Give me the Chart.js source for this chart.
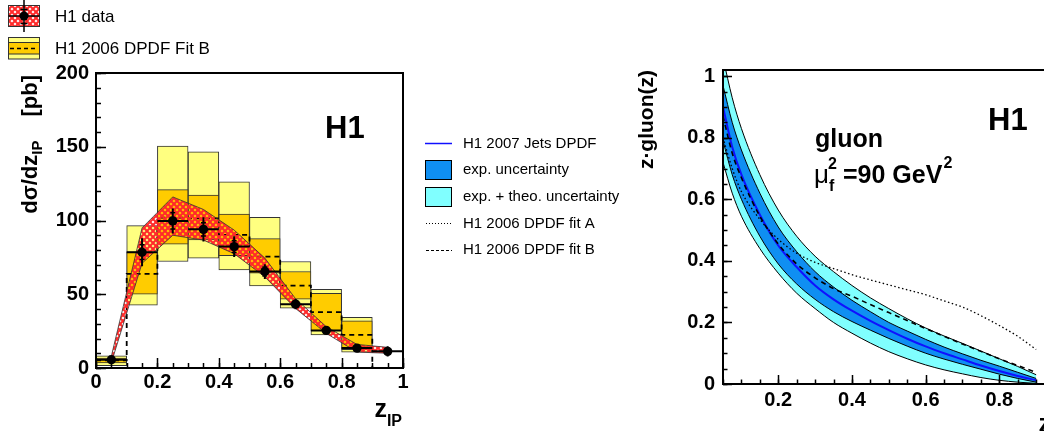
<!DOCTYPE html>
<html>
<head>
<meta charset="utf-8">
<script src="https://cdn.jsdelivr.net/npm/chart.js@4.4.0/dist/chart.umd.min.js"></script>
<style>
html, body { margin: 0; padding: 0; background: #fff; overflow: hidden; width: 1044px; height: 431px; }
canvas { position: absolute; top: 0; }
#left { left: 0; }
#right { left: 630px; }
</style>
</head>
<body>
<canvas id="left" width="630" height="431"></canvas>
<canvas id="right" width="470" height="431"></canvas>
<script>
const FONT = "'Liberation Sans', Arial, Helvetica, sans-serif";

// ---- left panel: dsigma/dz_IP [pb]
const binCentres = [0.05, 0.15, 0.25, 0.35, 0.45, 0.55, 0.65, 0.75, 0.85];
const theoLow  = [1.6, 42.6, 72.2, 74.4, 66.5, 55.7, 40.6, 22.5, 10.8];
const theoHigh = [8.3, 96.5, 150.4, 146.6, 126.3, 102.1, 72.2, 53.4, 34.3];
const expLow   = [3.4, 50.0, 83.9, 86.8, 76.2, 64.3, 46.7, 25.3, 12.4];
const expHigh  = [6.8, 78.7, 120.9, 117.2, 104.4, 87.7, 65.4, 50.7, 32.0];
const fitBEdges = [0, 0.1, 0.2, 0.3, 0.4, 0.5, 0.6, 0.7, 0.8, 0.9, 1.0];
const fitBXsec  = [5.2, 63.8, 101.9, 101.5, 90.2, 75.5, 55.9, 37.9, 22.5, 0, 0];

const dataZ    = [0.05, 0.15, 0.25, 0.35, 0.45, 0.55, 0.65, 0.75, 0.85, 0.95];
const dataXsec = [5.6, 78.5, 99.7, 94.0, 82.3, 65.4, 43.3, 25.5, 13.5, 11.3];
const statErr  = [1.0, 5.0, 5.5, 4.5, 4.0, 3.0, 2.0, 1.5, 1.5, 2.0];
const totErr   = [2.0, 9.5, 8.5, 8.2, 7.0, 5.0, 3.5, 2.5, 2.0, 3.5];
const bandUp   = [8, 95, 116, 107.5, 93.5, 74.5, 47, 28, 16, 14];
const bandDown = [3.5, 71, 90, 86.7, 77.5, 61.8, 40.4, 23.5, 10.8, 10];

// ---- right panel: z*gluon(z) at mu_f^2 = 90 GeV^2
const zGrid    = [0.05, 0.075, 0.1, 0.15, 0.2, 0.25, 0.3, 0.35, 0.4, 0.45, 0.5, 0.55, 0.6, 0.65, 0.7, 0.75, 0.8, 0.85, 0.9];
const jetsFit  = [0.90, 0.77, 0.68, 0.55, 0.45, 0.38, 0.32, 0.275, 0.238, 0.205, 0.175, 0.147, 0.122, 0.10, 0.08, 0.06, 0.042, 0.026, 0.012];
const totUp    = [1.06, 0.93, 0.83, 0.68, 0.565, 0.48, 0.415, 0.365, 0.32, 0.28, 0.245, 0.212, 0.182, 0.156, 0.132, 0.107, 0.082, 0.057, 0.03];
const expUp    = [0.97, 0.85, 0.76, 0.62, 0.51, 0.43, 0.365, 0.315, 0.272, 0.235, 0.2, 0.172, 0.145, 0.12, 0.098, 0.077, 0.058, 0.038, 0.018];
const expDown  = [0.79, 0.68, 0.60, 0.48, 0.39, 0.325, 0.275, 0.235, 0.203, 0.175, 0.148, 0.123, 0.10, 0.081, 0.064, 0.048, 0.032, 0.018, 0.006];
const totDown  = [0.72, 0.62, 0.545, 0.44, 0.36, 0.295, 0.245, 0.2, 0.165, 0.133, 0.105, 0.082, 0.062, 0.046, 0.033, 0.021, 0.012, 0.006, 0.002];
const fit2006A = [0.80, 0.70, 0.625, 0.535, 0.47, 0.425, 0.395, 0.375, 0.355, 0.338, 0.322, 0.306, 0.29, 0.27, 0.25, 0.222, 0.19, 0.155, 0.112];
const fit2006B = [0.87, 0.75, 0.67, 0.545, 0.455, 0.39, 0.345, 0.31, 0.285, 0.258, 0.232, 0.206, 0.18, 0.155, 0.13, 0.106, 0.082, 0.06, 0.038];

const LIGHT_YELLOW = '#ffff80', ORANGE = '#ffcc00';
const BLUE_BAND = '#0f8ff2', CYAN_BAND = '#80ffff', BLUE_LINE = '#1010ff';

// red cross hatch like ROOT fill style
const tile = document.createElement('canvas');
tile.width = tile.height = 6;
{
  const g = tile.getContext('2d');
  g.strokeStyle = '#ff2a2a';
  g.lineWidth = 2.1;
  g.beginPath();
  g.moveTo(-1, -1); g.lineTo(7, 7);
  g.moveTo(7, -1); g.lineTo(-1, 7);
  g.stroke();
}
const hatch = document.getElementById('left').getContext('2d').createPattern(tile, 'repeat');

const pts = (xs, ys) => xs.map((x, i) => ({ x, y: ys[i] }));

const vBars = [], hBars = [], statTicks = [];
dataZ.forEach((z, i) => {
  const y = dataXsec[i];
  vBars.push({ x: z, y: y - totErr[i] }, { x: z, y: y + totErr[i] }, { x: z, y: null });
  hBars.push({ x: z - 0.05, y }, { x: z + 0.05, y }, { x: z, y: null });
  [-1, 1].forEach(s => {
    statTicks.push({ x: z - 0.008, y: y + s * statErr[i] }, { x: z + 0.008, y: y + s * statErr[i] }, { x: z, y: null });
  });
});

// frame + inward ticks, ROOT style
const frame = {
  id: 'frame',
  afterDatasetsDraw(chart, args, o) {
    const { ctx, chartArea: a, scales } = chart;
    ctx.save();
    ctx.strokeStyle = '#000';
    ctx.lineWidth = 1.5;
    const tick = (sc, step, len) => {
      for (let v = Math.ceil(sc.min / step - 1e-6) * step; v <= sc.max + 1e-9; v += step) {
        const p = Math.round(sc.getPixelForValue(v)) + 0.5;
        ctx.beginPath();
        if (sc.axis === 'x') { ctx.moveTo(p, a.bottom); ctx.lineTo(p, a.bottom - len); }
        else { ctx.moveTo(a.left, p); ctx.lineTo(a.left + len, p); }
        ctx.stroke();
      }
    };
    tick(scales.x, o.xMinor, o.minor);
    tick(scales.x, o.xMajor, o.major);
    tick(scales.y, o.yMinor, o.minor);
    tick(scales.y, o.yMajor, o.major);
    ctx.lineWidth = 2;
    ctx.strokeRect(a.left, a.top, a.right - a.left, a.bottom - a.top);
    ctx.restore();
  }
};

function runs(ctx, x, y, parts) {
  let cx = x;
  for (const p of parts) {
    ctx.font = p.f;
    ctx.fillText(p.t, cx + (p.dx || 0), y + (p.dy || 0));
    cx += ctx.measureText(p.t).width + (p.dx || 0);
  }
  return cx - x;
}
function runsWidth(ctx, parts) {
  let w = 0;
  for (const p of parts) { ctx.font = p.f; w += ctx.measureText(p.t).width + (p.dx || 0); }
  return w;
}

const leftDecor = {
  id: 'leftDecor',
  afterDraw(chart) {
    const ctx = chart.ctx;
    ctx.save();
    ctx.fillStyle = '#000';
    ctx.textBaseline = 'alphabetic';

    ctx.font = `bold 31px ${FONT}`;
    ctx.fillText('H1', 325, 138);

    // y title
    const yt = [
      { t: 'd\u03c3/dz', f: `bold 22px ${FONT}` },
      { t: 'IP', f: `bold 15px ${FONT}`, dy: 5 },
      { t: '[pb]', f: `bold 22px ${FONT}`, dx: 24 }
    ];
    ctx.save();
    ctx.translate(37, 75);
    ctx.rotate(-Math.PI / 2);
    runs(ctx, -runsWidth(ctx, yt), 0, yt);
    ctx.restore();

    // x title
    const xt = [{ t: 'z', f: `bold 25px ${FONT}` }, { t: 'IP', f: `bold 16px ${FONT}`, dy: 9 }];
    runs(ctx, 402 - runsWidth(ctx, xt), 417, xt);

    // top-left legend
    ctx.lineWidth = 1;
    ctx.strokeStyle = '#333';
    ctx.fillStyle = '#fff';
    ctx.fillRect(8.5, 5.5, 31, 21);
    ctx.fillStyle = hatch;
    ctx.fillRect(8.5, 5.5, 31, 21);
    ctx.strokeRect(8.5, 5.5, 31, 21);
    ctx.strokeStyle = '#000';
    ctx.lineWidth = 1.5;
    ctx.beginPath();
    ctx.moveTo(24, 0); ctx.lineTo(24, 32);
    ctx.moveTo(8.5, 16); ctx.lineTo(39.5, 16);
    ctx.moveTo(20.5, 9.5); ctx.lineTo(27.5, 9.5);
    ctx.moveTo(20.5, 23.5); ctx.lineTo(27.5, 23.5);
    ctx.stroke();
    ctx.fillStyle = '#000';
    ctx.beginPath(); ctx.arc(24, 16, 4.5, 0, Math.PI * 2); ctx.fill();

    ctx.lineWidth = 1;
    ctx.strokeStyle = '#333';
    ctx.fillStyle = LIGHT_YELLOW;
    ctx.fillRect(8.5, 37.5, 31, 21.5);
    ctx.strokeRect(8.5, 37.5, 31, 21.5);
    ctx.fillStyle = ORANGE;
    ctx.fillRect(8.5, 42.5, 31, 11.5);
    ctx.strokeRect(8.5, 42.5, 31, 11.5);
    ctx.strokeStyle = '#000';
    ctx.lineWidth = 1.5;
    ctx.setLineDash([4, 3]);
    ctx.beginPath(); ctx.moveTo(10, 48.5); ctx.lineTo(38, 48.5); ctx.stroke();
    ctx.setLineDash([]);

    ctx.fillStyle = '#000';
    ctx.font = `17px ${FONT}`;
    ctx.textBaseline = 'middle';
    ctx.fillText('H1 data', 55, 17);
    ctx.fillText('H1 2006 DPDF Fit B', 55, 49);

    // middle legend (belongs to the gluon panel)
    ctx.font = `15px ${FONT}`;
    const lx = 463;
    ctx.strokeStyle = BLUE_LINE; ctx.lineWidth = 1.5;
    ctx.beginPath(); ctx.moveTo(425, 143.5); ctx.lineTo(452, 143.5); ctx.stroke();
    ctx.fillText('H1 2007 Jets DPDF', lx, 143.5);

    ctx.strokeStyle = '#000'; ctx.lineWidth = 1;
    ctx.fillStyle = BLUE_BAND;
    ctx.fillRect(425.5, 160.5, 26, 19); ctx.strokeRect(425.5, 160.5, 26, 19);
    ctx.fillStyle = CYAN_BAND;
    ctx.fillRect(425.5, 187.5, 26, 19); ctx.strokeRect(425.5, 187.5, 26, 19);
    ctx.fillStyle = '#000';
    ctx.fillText('exp. uncertainty', lx, 170);
    ctx.fillText('exp. + theo. uncertainty', lx, 197);

    ctx.setLineDash([1, 2]);
    ctx.beginPath(); ctx.moveTo(426, 223.5); ctx.lineTo(452, 223.5); ctx.stroke();
    ctx.setLineDash([3, 2]);
    ctx.beginPath(); ctx.moveTo(426, 250.5); ctx.lineTo(452, 250.5); ctx.stroke();
    ctx.setLineDash([]);
    ctx.fillText('H1 2006 DPDF fit A', lx, 224);
    ctx.fillText('H1 2006 DPDF fit B', lx, 250);
    ctx.restore();
  }
};

const rightDecor = {
  id: 'rightDecor',
  afterDraw(chart) {
    const ctx = chart.ctx;
    const ox = 630;
    ctx.save();
    ctx.fillStyle = '#000';
    ctx.textBaseline = 'alphabetic';
    ctx.font = `bold 31px ${FONT}`;
    ctx.fillText('H1', 988 - ox, 130);
    ctx.font = `bold 25px ${FONT}`;
    ctx.fillText('gluon', 815 - ox, 147);
    ctx.font = `26px ${FONT}`;
    ctx.fillText('\u03bc', 814 - ox, 183);
    ctx.font = `bold 16px ${FONT}`;
    ctx.fillText('f', 829 - ox, 191);
    ctx.fillText('2', 828 - ox, 169);
    ctx.font = `bold 25px ${FONT}`;
    const w = ctx.measureText('=90 GeV').width;
    ctx.fillText('=90 GeV', 843 - ox, 183);
    ctx.font = `bold 16px ${FONT}`;
    ctx.fillText('2', 843 - ox + w + 1, 168);

    // y title
    ctx.save();
    ctx.translate(653 - ox, 70);
    ctx.rotate(-Math.PI / 2);
    ctx.font = `bold 21px ${FONT}`;
    ctx.textAlign = 'right';
    ctx.fillText('z\u00b7gluon(z)', 0, 0);
    ctx.restore();

    // x title (mostly outside the window)
    const xt = [{ t: 'z', f: `bold 25px ${FONT}` }, { t: 'IP', f: `bold 16px ${FONT}`, dy: 9 }];
    runs(ctx, 1066 - ox - runsWidth(ctx, xt), 432, xt);
    ctx.restore();
  }
};

const tickFont = { family: FONT, size: 20, weight: 'bold' };
const fmt = v => String(+(+v).toFixed(2));

new Chart(document.getElementById('left'), {
  type: 'line',
  data: {
    datasets: [
      { type: 'bar', data: pts(binCentres, binCentres.map((_, i) => [theoLow[i], theoHigh[i]])),
        backgroundColor: LIGHT_YELLOW, borderColor: '#333', borderWidth: 1, borderSkipped: false,
        grouped: false, barPercentage: 1, categoryPercentage: 1, order: 20 },
      { type: 'bar', data: pts(binCentres, binCentres.map((_, i) => [expLow[i], expHigh[i]])),
        backgroundColor: ORANGE, borderColor: '#333', borderWidth: 1, borderSkipped: false,
        grouped: false, barPercentage: 1, categoryPercentage: 1, order: 19 },
      { data: pts(fitBEdges, fitBXsec), stepped: 'before', borderColor: '#000', borderWidth: 1.8,
        borderDash: [5, 4], pointRadius: 0, fill: false, order: 18 },
      { data: pts(dataZ, bandUp), borderColor: '#333', borderWidth: 0.8, pointRadius: 0,
        backgroundColor: hatch, fill: '+1', order: 17 },
      { data: pts(dataZ, bandDown), borderColor: '#333', borderWidth: 0.8, pointRadius: 0, fill: false, order: 16 },
      { data: hBars, borderColor: '#000', borderWidth: 2, pointRadius: 0, spanGaps: false, fill: false, order: 5 },
      { data: vBars, borderColor: '#000', borderWidth: 2, pointRadius: 0, spanGaps: false, fill: false, order: 4 },
      { data: statTicks, borderColor: '#000', borderWidth: 1.5, pointRadius: 0, spanGaps: false, fill: false, order: 3 },
      { data: pts(dataZ, dataXsec), showLine: false, pointRadius: 4.7, pointBackgroundColor: '#000',
        pointBorderWidth: 0, order: 1 }
    ]
  },
  options: {
    responsive: false,
    animation: false,
    events: [],
    layout: { padding: { left: 0, top: 73, right: 227, bottom: 0 } },
    plugins: {
      legend: { display: false },
      tooltip: { enabled: false },
      frame: { xMinor: 0.05, xMajor: 0.2, yMinor: 10, yMajor: 50, minor: 5, major: 10 }
    },
    scales: {
      x: {
        type: 'linear', min: 0, max: 1, offset: false,
        grid: { display: false, drawTicks: false, offset: false }, border: { display: false },
        ticks: { stepSize: 0.2, font: tickFont, color: '#000', padding: 2, maxRotation: 0, callback: fmt },
        afterFit: s => { s.height = 63; }
      },
      y: {
        type: 'linear', min: 0, max: 200,
        grid: { display: false, drawTicks: false }, border: { display: false },
        ticks: { stepSize: 50, font: tickFont, color: '#000', padding: 7, callback: fmt },
        afterFit: s => { s.width = 96; }
      }
    }
  },
  plugins: [frame, leftDecor]
});

const curve = (ys, extra) => Object.assign({
  data: pts(zGrid, ys), pointRadius: 0, cubicInterpolationMode: 'monotone', fill: false
}, extra);

new Chart(document.getElementById('right'), {
  type: 'line',
  data: {
    datasets: [
      curve(totUp, { borderColor: '#000', borderWidth: 1, backgroundColor: CYAN_BAND, fill: '+1', order: 20 }),
      curve(totDown, { borderColor: '#000', borderWidth: 1, order: 19 }),
      curve(expUp, { borderColor: '#000', borderWidth: 1, backgroundColor: BLUE_BAND, fill: '+1', order: 18 }),
      curve(expDown, { borderColor: '#000', borderWidth: 1, order: 17 }),
      curve(jetsFit, { borderColor: BLUE_LINE, borderWidth: 2, order: 3 }),
      curve(fit2006A, { borderColor: '#000', borderWidth: 1.3, borderDash: [1.5, 2.5], order: 2 }),
      curve(fit2006B, { borderColor: '#000', borderWidth: 1.6, borderDash: [5, 4], order: 1 })
    ]
  },
  options: {
    responsive: false,
    animation: false,
    events: [],
    layout: { padding: { left: 0, top: 70, right: 27, bottom: 0 } },
    plugins: {
      legend: { display: false },
      tooltip: { enabled: false },
      frame: { xMinor: 0.05, xMajor: 0.2, yMinor: 0.05, yMajor: 0.2, minor: 4.5, major: 9 }
    },
    scales: {
      x: {
        type: 'linear', min: 0.05, max: 1, offset: false,
        grid: { display: false, drawTicks: false }, border: { display: false },
        ticks: { stepSize: 0.2, includeBounds: false, font: tickFont, color: '#000', padding: 4, maxRotation: 0, callback: fmt },
        afterFit: s => { s.height = 47; }
      },
      y: {
        type: 'linear', min: 0, max: 1.02,
        grid: { display: false, drawTicks: false }, border: { display: false },
        ticks: { stepSize: 0.2, includeBounds: false, font: tickFont, color: '#000', padding: 8, callback: fmt },
        afterFit: s => { s.width = 93; }
      }
    }
  },
  plugins: [frame, rightDecor]
});
</script>
</body>
</html>
